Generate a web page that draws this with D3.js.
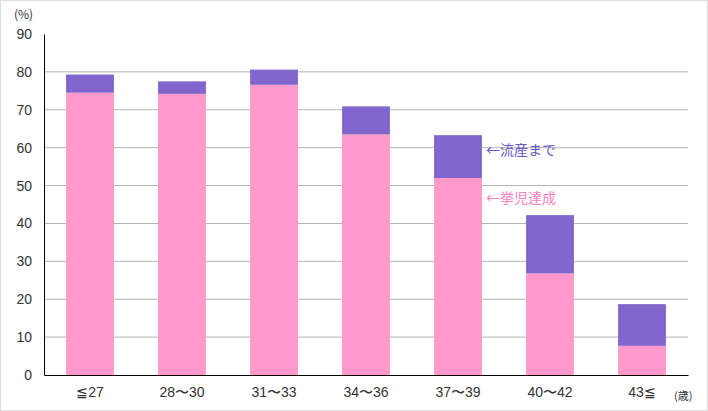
<!DOCTYPE html>
<html><head><meta charset="utf-8">
<script src="https://cdn.jsdelivr.net/npm/d3@7"></script>
<style>body{margin:0;background:#fff}svg{display:block;font-family:"Noto Sans CJK JP","Noto Sans",sans-serif}</style>
</head><body><div id="chart"></div>
<script>
const categories = ["≦27", "28〜30", "31〜33", "34〜36", "37〜39", "40〜42", "43≦"];
const childbirth = [74.5, 74.2, 76.6, 63.5, 52.0, 26.8, 7.7];
const untilMiscarriage = [4.8, 3.3, 4.0, 7.4, 11.3, 15.4, 11.0];
const yTicks = [0, 10, 20, 30, 40, 50, 60, 70, 80, 90];

const width = 708, height = 411;
const margin = { top: 34, right: 20, bottom: 36, left: 44 };

const svg = d3.select("#chart").append("svg")
  .attr("width", width).attr("height", height);

svg.append("rect").attr("x", 0.5).attr("y", 0.5)
  .attr("width", width - 1).attr("height", height - 1)
  .attr("fill", "none").attr("stroke", "#ddd");

const x = d3.scaleBand().domain(categories)
  .range([margin.left, width - margin.right]).paddingInner(0.48).paddingOuter(0.24);
const y = d3.scaleLinear().domain([0, 90])
  .range([height - margin.bottom, margin.top]);

svg.append("g").selectAll("line").data(yTicks.filter(d => d > 0 && d < 90)).join("line")
  .attr("x1", margin.left).attr("x2", width - margin.right)
  .attr("y1", d => y(d)).attr("y2", d => y(d))
  .attr("stroke", "#b3b3b3");

svg.append("g").selectAll("rect").data(categories).join("rect")
  .attr("x", d => x(d)).attr("width", x.bandwidth())
  .attr("y", (d, i) => y(childbirth[i])).attr("height", (d, i) => y(0) - y(childbirth[i]))
  .attr("fill", "#ff99cc");

svg.append("g").selectAll("rect").data(categories).join("rect")
  .attr("x", d => x(d)).attr("width", x.bandwidth())
  .attr("y", (d, i) => y(childbirth[i] + untilMiscarriage[i])).attr("height", (d, i) => y(childbirth[i]) - y(childbirth[i] + untilMiscarriage[i]))
  .attr("fill", "#8066cc");

const yAxis = svg.append("g").attr("transform", `translate(${margin.left},0)`)
  .call(d3.axisLeft(y).tickValues(yTicks).tickSize(0).tickPadding(12));
yAxis.select(".domain").attr("stroke", "#000");
yAxis.selectAll("text").style("font-size", "14px").attr("fill", "#333");

const xAxis = svg.append("g").attr("transform", `translate(0,${y(0)})`)
  .call(d3.axisBottom(x).tickSize(0).tickPadding(12));
xAxis.select(".domain").attr("stroke", "#000");
xAxis.selectAll("text").style("font-size", "14px").attr("fill", "#333");

svg.append("text").attr("x", 14).attr("y", 19).style("font-size", "12px").attr("fill", "#333").text("(%)");
svg.append("text").attr("x", 674).attr("y", 400).style("font-size", "11px").attr("fill", "#333").text("(歳)");

const last = 4;
svg.append("text").attr("x", x(categories[last]) + x.bandwidth() + 4)
  .attr("y", y(childbirth[last] + untilMiscarriage[last] / 2) - 2)
  .style("font-size", "14px").attr("fill", "#6655cc").text("←流産まで");
svg.append("text").attr("x", x(categories[last]) + x.bandwidth() + 4)
  .attr("y", y(childbirth[last]) + 25)
  .style("font-size", "14px").attr("fill", "#ff80c0").text("←挙児達成");
</script></body></html>
